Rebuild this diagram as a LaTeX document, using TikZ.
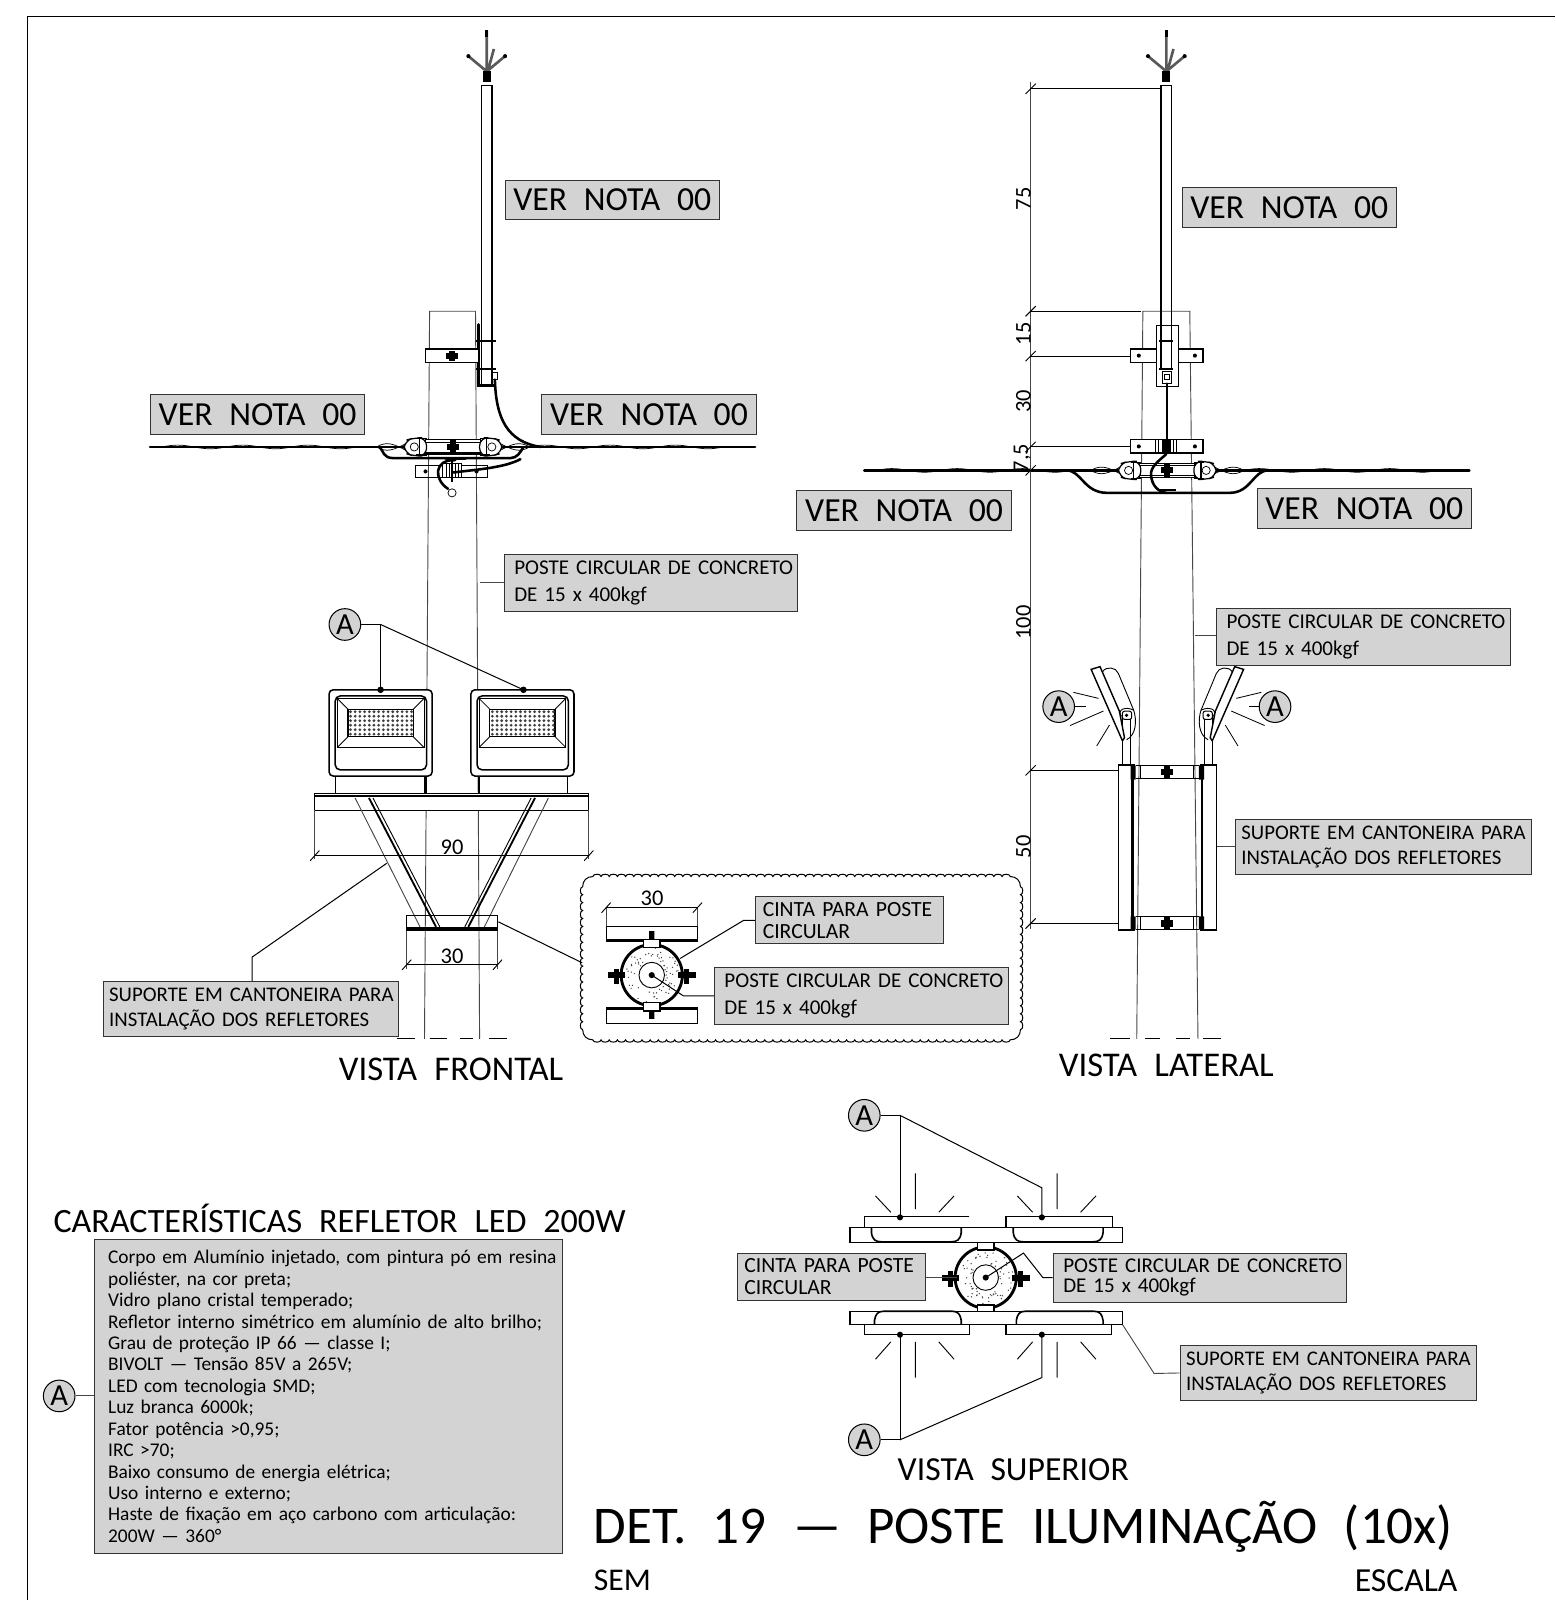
\documentclass[tikz,border=0pt]{standalone}
\usepackage{fontspec}
\setmainfont{Carlito}[WordSpace=2.2]
\definecolor{boxgray}{RGB}{211,211,211}
\definecolor{thingray}{RGB}{70,70,70}
\usetikzlibrary{decorations.pathmorphing}
\tikzset{
  notabox/.style={draw=black!80,line width=.5pt,fill=boxgray,minimum width=105pt,minimum height=19.5pt,inner sep=0pt,font=\fontsize{16.5}{18}\selectfont},
  postebox/.style={draw=black!80,line width=.5pt,fill=boxgray,minimum width=144pt,minimum height=28pt,inner xsep=5pt,inner ysep=0pt,text width=134pt,align=left,font=\fontsize{10.3}{13.4}\selectfont},
  suportebox/.style={draw=black!80,line width=.5pt,fill=boxgray,minimum width=145pt,minimum height=27pt,inner xsep=3pt,inner ysep=0pt,text width=139pt,align=left,font=\fontsize{10.2}{12}\selectfont},
  cintabox/.style={draw=black!80,line width=.5pt,fill=boxgray,minimum width=92pt,minimum height=23pt,inner xsep=3.5pt,inner ysep=0pt,text width=85pt,align=left,font=\fontsize{10.6}{10.5}\selectfont},
  acirc/.style={circle,draw=black,line width=.5pt,fill=boxgray,minimum size=15.5pt,inner sep=0pt,font=\fontsize{15}{15}\selectfont},
  vistatxt/.style={inner sep=0pt,font=\fontsize{17}{19}\selectfont},
  dimtxt/.style={inner sep=0pt,font=\fontsize{11}{11}\selectfont},
  thinln/.style={line width=.45pt,draw=thingray},
  thickln/.style={line width=1.25pt,line cap=round},
  blk/.style={line width=.6pt},
  cabo/.style={line width=.35pt,decorate,decoration={snake,amplitude=.9pt,segment length=32pt}}
}
\begin{document}
\begin{tikzpicture}[x=.5pt,y=-.5pt,line width=.5pt]
\useasboundingbox (0,0) rectangle (1524,1568);
\draw[line width=.7pt] (27,1568)--(27,16)--(1524,16);

\draw[thinln] (416,1018)--(421,305)--(466,305)--(470,1018);
\draw[thinln] (1114,1018)--(1120,305)--(1166,305)--(1174,1018);
\foreach \cx in {477,1143}{
  \draw[line width=1.3pt,black!65] (\cx,30)--(\cx,70) (\cx,70)--(\cx-18,55) (\cx,70)--(\cx+18,55) (\cx+1,70)--(\cx+7,48);
  \fill (\cx-1.5,29) rectangle (\cx+1.5,36);
  \fill (\cx-18,55) circle (2) (\cx+18,55) circle (2);
  \fill (\cx-4,70) rectangle (\cx+4,80);
  \draw[line width=.75pt] (\cx-5,378)--(\cx-5,84)--(\cx+5,84)--(\cx+5,378);
}

\foreach \cx/\cy in {444/438,1144/461}{
  \draw[thickln] (\cx-297,\cy)--(\cx+296,\cy);
  \draw[cabo] (\cx-290,\cy)--(\cx-70,\cy);
  \draw[cabo] (\cx+70,\cy)--(\cx+290,\cy);
  \draw[line width=.35pt] (\cx-75,\cy)..controls (\cx-65,\cy+6) and (\cx-58,\cy+3)..(\cx-45,\cy-4);
  \draw[line width=.35pt] (\cx-75,\cy)..controls (\cx-65,\cy-6) and (\cx-58,\cy-3)..(\cx-45,\cy+4);
  \draw[line width=.35pt] (\cx+75,\cy)..controls (\cx+65,\cy+6) and (\cx+58,\cy+3)..(\cx+45,\cy-4);
  \draw[line width=.35pt] (\cx+75,\cy)..controls (\cx+65,\cy-6) and (\cx+58,\cy-3)..(\cx+45,\cy+4);
  \draw[fill=white,blk] (\cx-27,\cy-7) rectangle (\cx+27,\cy+7);
  \draw[line width=.3pt] (\cx-27,\cy-5)--(\cx+27,\cy-5) (\cx-27,\cy+5)--(\cx+27,\cy+5);
  \fill (\cx-3,\cy-7) rectangle (\cx+3,\cy+7);
  \fill (\cx-6,\cy-3) rectangle (\cx+6,\cy+3);
  \foreach \sx in {1,-1}{
    \begin{scope}[shift={(\cx,\cy)},xscale=\sx]
      \draw[fill=white,blk,rounded corners=4pt] (-26,-9)--(-38,-9)--(-48,-6)--(-48,6)--(-38,9)--(-26,9)--cycle;
      \draw[blk] (-36,-8)--(-26,-8) (-36,8)--(-26,8) (-33,-9)--(-33,9);
      \draw[line width=.35pt] (-38,0) circle (4);
    \end{scope}
  }
}

\draw[thickln] (469,318)--(469,378)--(485,378);
\draw[line width=.9pt] (466,334)--(486,334) (466,362)--(486,362);
\draw[line width=.4pt] (482,365) rectangle (487,372);
\draw[fill=white,blk] (417,342) rectangle (469,355);
\fill (440,344) rectangle (446,354);
\fill (437,346) rectangle (449,352);
\draw[thickln] (485,372)..controls (486,410) and (497,433)..(530,438);
\draw[thickln] (372,438)..controls (376,442) and (375,449)..(386,449)--(500,449)..controls (507,449) and (510,443)..(513,438);
\draw[blk] (407,456) rectangle (478,468);
\fill (417,462) circle (2) (467,462) circle (2);
\draw[blk,fill=white] (434,454) rectangle (452,468);
\foreach \hx in {437,440,443,446,449}{\draw[line width=.35pt] (\hx,455)--(\hx,468);}
\draw[thickln] (437,450)--(456,450);
\draw[thickln] (510,450)..controls (495,458) and (470,460)..(444,463);
\draw[thickln] (446,451)..controls (425,450) and (425,470)..(439,479);
\draw[line width=.9pt] (443,452)--(443,472);
\draw[fill=white,line width=.35pt] (443,483) circle (4);

\node (vnA) at (600,196)[notabox]{VER NOTA 00};
\node (vnB) at (252.5,406.5)[notabox]{VER NOTA 00};
\node (vnC) at (636,406.5)[notabox]{VER NOTA 00};
\node (pbA) at (638,571)[postebox]{\mbox{POSTE CIRCULAR DE CONCRETO}\\DE 15 x 400kgf};
\coordinate (pbAend) at (470,571);
\draw[thinln] (pbA.west)--(pbAend);

\foreach \dx in {0,139}{
  \draw[fill=white,line width=.75pt,rounded corners=2pt] (322.5+\dx,676) rectangle (423.5+\dx,760.5);
  \draw[line width=.75pt,rounded corners=2.5pt] (328.5+\dx,682) rectangle (418+\dx,754.5);
  \draw[line width=.45pt] (330.5+\dx,684.5) rectangle (415.5+\dx,732.5);
  \draw[line width=.65pt] (341+\dx,695) rectangle (405+\dx,722);
  \draw[line width=.4pt] (330.5+\dx,684.5)--(341+\dx,695) (415.5+\dx,684.5)--(405+\dx,695) (330.5+\dx,732.5)--(341+\dx,722) (415.5+\dx,732.5)--(405+\dx,722);
  \foreach \i in {0,...,13}{
    \foreach \j in {0,...,5}{
      \fill[black!75] (343.5+\i*4.6+\dx,697.5+\j*4.4) circle (1.5);
    }
  }
}
\draw[line width=.5pt] (329,760.5)--(329,778);
\draw[line width=1pt] (417,760.5)--(417,778);
\draw[line width=1pt] (469,760.5)--(469,778);
\draw[line width=.5pt] (556.5,760.5)--(556.5,778);

\node (aF) at (338,612)[acirc]{A};
\coordinate (lpA) at (373,676);
\coordinate (lpB) at (513,676);
\draw (aF.east)--(373,612)--(lpA);
\draw (373,612)--(lpB);
\fill (lpA) circle (3.2) (lpB) circle (3.2);

\draw[fill=white,line width=.55pt] (308.5,778) rectangle (577,794);
\draw[line width=1.1pt] (308.5,780)--(577,780);
\draw[thinln] (348,782)--(411.6,908.3);
\draw[line width=.9pt] (361.6,782)--(427.3,908.3);
\draw[line width=.45pt] (365.5,782)--(431,908.3);
\draw[line width=.9pt] (524.3,782)--(459,908.3);
\draw[line width=.45pt] (520.5,782)--(455.5,908.3);
\draw[thinln] (537.4,782)--(474.7,908.3);
\draw[line width=.5pt] (398.5,897) rectangle (487.4,912);
\draw[line width=1.1pt] (398.5,910)--(487.4,910);

\coordinate (dNa) at (308.5,838.5);
\coordinate (dNb) at (577,838.5);
\draw[thinln] (308.5,794)--(308.5,842) (577,794)--(577,842);
\draw[line width=.45pt] (dNa)--(dNb);
\draw[line width=.45pt] (304,843.5)--(313,833.5) (572.5,843.5)--(581.5,833.5);
\node (nN) at (443,830)[dimtxt]{90};
\coordinate (dTa) at (398.5,945.5);
\coordinate (dTb) at (487.4,945.5);
\draw[thinln] (398.5,912)--(398.5,950) (487.4,912)--(487.4,950);
\draw[line width=.45pt] (dTa)--(dTb);
\draw[line width=.45pt] (394,950.5)--(403,940.5) (483,950.5)--(492,940.5);
\node (nT) at (443,937)[dimtxt]{30};

\node (sbA) at (246,989)[suportebox]{\mbox{SUPORTE EM CANTONEIRA PARA}\\\mbox{INSTALAÇÃO DOS REFLETORES}};
\coordinate (sbAend) at (379,846);
\draw (sbA.north-|247,0)--(247,938)--(sbAend);
\draw[line width=.55pt] (389,1018)--(407,1018) (421,1018)--(438,1018) (451,1018)--(464,1018) (479,1018)--(497,1018);
\draw[line width=.55pt] (1088,1018)--(1107,1018) (1122,1018)--(1137,1018) (1152,1018)--(1166,1018) (1179,1018)--(1197,1018);
\node (tF) at (442,1048)[vistatxt]{VISTA FRONTAL};

\draw[line width=.5pt] (581,859)
  \foreach \i in {1,...,51}{.. controls +(0,-3) and +(0,-3) .. ++(8.02,0)}
  .. controls +(6,0) and +(0,-6) .. ++(10,10)
  \foreach \i in {1,...,18}{.. controls +(3,0) and +(3,0) .. ++(0,7.78)}
  .. controls +(0,6) and +(6,0) .. ++(-10,10)
  \foreach \i in {1,...,51}{.. controls +(0,3) and +(0,3) .. ++(-8.02,0)}
  .. controls +(-6,0) and +(0,6) .. ++(-10,-10)
  \foreach \i in {1,...,18}{.. controls +(-3,0) and +(-3,0) .. ++(0,-7.78)}
  .. controls +(0,-6) and +(-6,0) .. ++(10,-10);
\coordinate (clA) at (488.4,903.4);
\coordinate (clB) at (570.5,943.5);
\draw (clA)--(clB);

\draw[thinln] (594,907)--(594,889) (683.5,907)--(683.5,889);
\draw[line width=.45pt] (594,889.5)--(683.5,889.5);
\draw[line width=.45pt] (589.5,894.5)--(598.5,884.5) (679,894.5)--(688,884.5);
\node (nD) at (639,880)[dimtxt]{30};
\draw[line width=.55pt] (594,907.6) rectangle (683.5,922.3);
\draw[line width=1pt] (594,921)--(683.5,921);
\draw[line width=.55pt] (594,987.6) rectangle (683.5,1003);
\draw[line width=1pt] (594,989)--(683.5,989);

\pgfmathsetseed{19}
\foreach \cx/\cy/\ry in {638.7/955.6/30,966/1252/30}{
  \draw[line width=1.4pt,fill=white] (\cx,\cy) circle (\ry);
  \foreach \i in {1,...,70}{
    \pgfmathsetmacro{\ang}{rnd*360}
    \pgfmathsetmacro{\rad}{14+rnd*13}
    \fill[black!75] (\cx,\cy)+(\ang:\rad) circle (.7);
  }
  \draw[line width=.45pt,fill=white] (\cx,\cy) circle (12.5);
  \fill (\cx,\cy) circle (3);
  \draw[line width=.7pt,fill=white] (\cx-8,\cy-35) rectangle (\cx+8,\cy-27);
  \draw[line width=.7pt,fill=white] (\cx-8,\cy+27) rectangle (\cx+8,\cy+35);
  \fill (\cx-2.5,\cy-43) rectangle (\cx+2.5,\cy-35) (\cx-2.5,\cy+35) rectangle (\cx+2.5,\cy+43);
  \fill (\cx-43,\cy-3) rectangle (\cx-26,\cy+3);
  \fill (\cx-37,\cy-6) rectangle (\cx-32,\cy+9);
  \fill (\cx+26,\cy-3) rectangle (\cx+43,\cy+3);
  \fill (\cx+32,\cy-6) rectangle (\cx+37,\cy+9);
}
\node (cbA) at (832.5,902)[cintabox]{CINTA PARA POSTE\\CIRCULAR};
\coordinate (cbAend) at (666.5,939.3);
\draw (cbA.west)--(728.6,902)--(cbAend);
\node (pbB) at (844,976)[postebox]{\mbox{POSTE CIRCULAR DE CONCRETO}\\DE 15 x 400kgf};
\coordinate (pbBend) at (638.7,955.6);
\draw (pbB.west)--(669.8,976)--(pbBend);

\draw[thinln] (1010,80)--(1010,910);
\foreach \dy in {87,305,349,438,461,755,905}{
  \draw[line width=.45pt] (1005,\dy+5)--(1015,\dy-5);
}
\draw[line width=.45pt] (1010,87)--(1137,87) (1010,305)--(1118,305) (1010,349)--(1108,349) (1010,438)--(1108,438) (1010,755)--(1097,755) (1010,905)--(1097,905);
\node (d75) at (1003,195)[dimtxt,rotate=90]{75};
\node (d15) at (1003,327)[dimtxt,rotate=90]{15};
\node (d30) at (1003,393)[dimtxt,rotate=90]{30};
\node (d75b) at (1002,449)[dimtxt,rotate=90]{7,5};
\node (d100) at (1003,610)[dimtxt,rotate=90]{100};
\node (d50) at (1003,830)[dimtxt,rotate=90]{50};

\draw[fill=white,blk] (1108,342) rectangle (1179,355);
\fill (1116,348.5) circle (2) (1171,348.5) circle (2);
\draw[fill=white,blk] (1133,319) rectangle (1155,379);
\draw[line width=.75pt] (1138,319)--(1138,362) (1148,319)--(1148,362);
\draw[line width=.9pt] (1136,334)--(1150,334) (1136,362)--(1150,362);
\draw[line width=.5pt] (1139,364) rectangle (1148,376);
\draw[line width=.5pt] (1141,367) rectangle (1146,372);
\draw[fill=white,blk] (1108,431) rectangle (1179,444);
\fill (1116,437.5) circle (2) (1171,437.5) circle (2);
\draw[line width=.35pt] (1132,431)--(1132,444) (1135,431)--(1135,444) (1150,431)--(1150,444) (1153,431)--(1153,444);
\fill (1139,431) rectangle (1148,444);
\draw[thickln] (1143.5,376)--(1143.5,432);
\draw[thickln] (1143,445)..controls (1135,452) and (1127,458)..(1128,466)..controls (1129,476) and (1135,482)..(1143,483);
\draw[thickln] (1045,461)..controls (1060,461) and (1062,483)..(1085,483)--(1205,483)..controls (1226,483) and (1228,461)..(1243,461);
\draw[line width=.9pt] (1135,480)--(1152,480);

\node (vnD) at (1263.5,203.5)[notabox]{VER NOTA 00};
\node (vnE) at (886,500.5)[notabox]{VER NOTA 00};
\node (vnF) at (1337,498.5)[notabox]{VER NOTA 00};
\node (pbC) at (1336,624)[postebox]{\mbox{POSTE CIRCULAR DE CONCRETO}\\DE 15 x 400kgf};
\coordinate (pbCend) at (1171,623);
\draw[thinln] (pbC.west|-pbCend)--(pbCend);
\node (sbB) at (1355.5,830)[suportebox]{\mbox{SUPORTE EM CANTONEIRA PARA}\\\mbox{INSTALAÇÃO DOS REFLETORES}};
\coordinate (sbBend) at (1191.5,830);
\draw[thinln] (sbB.west)--(sbBend);

\foreach \sx in {1,-1}{
  \begin{scope}[shift={(1144,0)},xscale=\sx]
    \draw[line width=.5pt,fill=white] (-44,699) rectangle (-36.5,749);
    \draw[line width=.45pt] (-64,659)..controls (-60,652) and (-50,654)..(-48,660)--(-33,696)..controls (-30,705) and (-30,720)..(-40,725);
    \draw[line width=.45pt] (-33,696)..controls (-40,692) and (-50,695)..(-45,702);
    \draw[line width=.7pt,fill=white] (-74.7,656)--(-66,653.3)--(-47,697)--(-42,723)--(-44,726)--cycle;
    \draw[line width=.5pt,fill=white,rounded corners=1pt] (-44,697) rectangle (-35,705);
    \fill (-40,701) circle (1.8);
    \draw[line width=.4pt] (-92,678.5)--(-67.5,684.4) (-95.3,711)--(-62.6,696.8) (-69.2,731)--(-56.7,710.5);
    \draw[line width=.5pt] (-48,749) rectangle (-33,912);
    \draw[line width=1.3pt] (-34,749)--(-34,912);
    \draw[line width=1.1pt] (-48,749.5)--(-32,749.5) (-48,911.5)--(-32,911.5);
    \fill (-36,750) rectangle (-31,764) (-36,898) rectangle (-31,911);
    \draw[line width=.4pt] (-26,750.5)--(-26,763) (-26,898.5)--(-26,911);
  \end{scope}
}
\draw[line width=.6pt] (1113,750.5)--(1175,750.5) (1113,763)--(1175,763) (1113,898.5)--(1175,898.5) (1113,911)--(1175,911);
\foreach \by in {756.5,905}{
  \fill (1141,\by-6) rectangle (1147,\by+6);
  \fill (1138,\by-3) rectangle (1150,\by+3);
}
\node (aLa) at (1037.5,692.5)[acirc]{A};
\node (aLb) at (1249.5,692.5)[acirc]{A};
\coordinate (lLa) at (1064,692.5);
\coordinate (lLb) at (1224,692.5);
\draw[line width=.4pt] (aLa.east)--(lLa) (aLb.west)--(lLb);
\node (tL) at (1143,1044)[vistatxt]{VISTA LATERAL};

\draw[fill=white,line width=.55pt] (833,1203) rectangle (1100,1218);
\draw[fill=white,line width=.55pt] (833,1285) rectangle (1100,1298);
\foreach \dx in {0,139}{
  \draw[fill=white,line width=.8pt] (854+\dx,1203)--(854+\dx,1208)..controls (855+\dx,1215) and (858+\dx,1217)..(864+\dx,1217)--(932+\dx,1217)..controls (938+\dx,1217) and (941+\dx,1215)..(942+\dx,1208)--(942+\dx,1203);
  \draw[fill=white,line width=.8pt] (857+\dx,1298)--(857+\dx,1294)..controls (858+\dx,1288) and (860+\dx,1285)..(866+\dx,1285)--(933+\dx,1285)..controls (939+\dx,1285) and (941+\dx,1288)..(942+\dx,1294)--(942+\dx,1298);
  \draw[fill=white,line width=.7pt] (847+\dx,1298) rectangle (950+\dx,1308);
  \draw[line width=.45pt] (897+\dx,1150)--(897+\dx,1185) (858+\dx,1172)--(873+\dx,1188) (920+\dx,1188)--(935+\dx,1172);
  \draw[line width=.45pt] (897+\dx,1315)--(897+\dx,1350) (858+\dx,1332)--(873+\dx,1315) (920+\dx,1315)--(935+\dx,1332);
}
\fill[white] (847,1192) rectangle (950,1203);
\draw[line width=.7pt] (950,1192)--(847,1192)--(847,1203)--(950,1203);
\draw[fill=white,line width=.7pt] (986,1192) rectangle (1090,1203);
\node (aSa) at (847,1093)[acirc]{A};
\node (aSb) at (847,1411)[acirc]{A};
\coordinate (lsA) at (882,1193);
\coordinate (lsB) at (1021,1193);
\coordinate (lsC) at (882,1308);
\coordinate (lsD) at (1021,1308);
\draw (aSa.east)--(882,1093)--(lsA);
\draw (882,1093)--(1021,1164)--(lsB);
\draw (aSb.east)--(882,1411)--(lsC);
\draw (882,1411)--(1021,1350)--(lsD);
\fill (lsA) circle (3) (lsB) circle (3) (lsC) circle (3) (lsD) circle (3);
\node (cbB) at (814.5,1251)[cintabox]{CINTA PARA POSTE\\CIRCULAR};
\coordinate (cbBend) at (938,1252);
\draw[thinln] (cbB.east|-cbBend)--(cbBend);
\node (pbD) at (1176,1252)[postebox,font=\fontsize{10.3}{9.5}\selectfont,minimum height=24pt]{\mbox{POSTE CIRCULAR DE CONCRETO}\\DE 15 x 400kgf};
\coordinate (pbDend) at (966,1252);
\draw (pbD.west)--(1022,1252)--(1003,1228)--(pbDend);
\node (sbC) at (1301.5,1345.5)[suportebox]{\mbox{SUPORTE EM CANTONEIRA PARA}\\\mbox{INSTALAÇÃO DOS REFLETORES}};
\coordinate (sbCend) at (1100,1298);
\draw[thinln] (sbC.west)--(1131,1346)--(sbCend);
\node (tS) at (993,1440)[inner sep=0pt,font=\fontsize{16.5}{18}\selectfont]{VISTA SUPERIOR};

\node (tC) at (52,1194)[anchor=west,inner sep=0pt,font=\fontsize{16.7}{18}\selectfont]{CARACTERÍSTICAS REFLETOR LED 200W};
\node (lst) at (322,1368.5)[draw=black!80,fill=boxgray,anchor=center,minimum width=229pt,minimum height=153.5pt,inner xsep=6.5pt,inner ysep=0pt,text width=216pt,align=left,font=\fontsize{9.5}{10.5}\selectfont]{\mbox{Corpo em Alumínio injetado, com pintura pó em resina}\\poliéster, na cor preta;\\Vidro plano cristal temperado;\\\mbox{Refletor interno simétrico em alumínio de alto brilho;}\\Grau de proteção IP 66 --- classe I;\\BIVOLT --- Tensão 85V a 265V;\\LED com tecnologia SMD;\\Luz branca 6000k;\\Fator potência >0,95;\\IRC >70;\\Baixo consumo de energia elétrica;\\Uso interno e externo;\\\mbox{Haste de fixação em aço carbono com articulação:}\\200W --- 360°};
\node (aC) at (58,1368)[acirc]{A};
\draw[thinln] (aC.east)--(lst.west|-aC);

\node (tD) at (1003,1496)[inner sep=0pt,font=\fontsize{26}{28}\selectfont]{DET. 19 --- POSTE ILUMINAÇÃO (10x)};
\node (tE) at (610,1549)[inner sep=0pt,font=\fontsize{15.5}{17}\selectfont]{SEM};
\node (tG) at (1378,1549)[inner sep=0pt,font=\fontsize{16.5}{18}\selectfont]{ESCALA};
\end{tikzpicture}
\end{document}
